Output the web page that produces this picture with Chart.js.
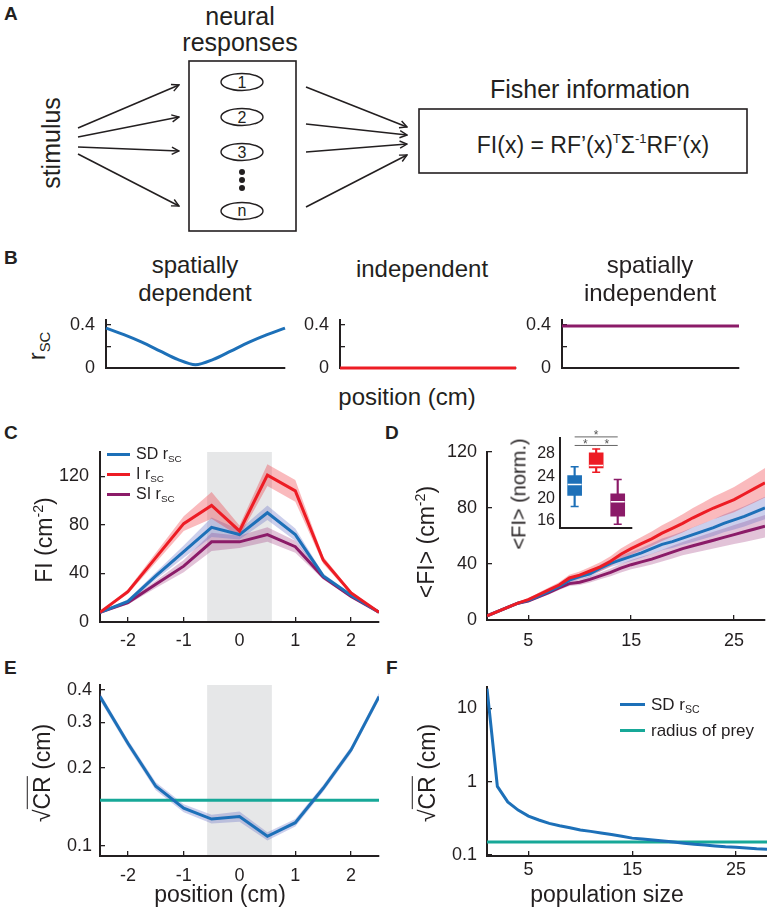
<!DOCTYPE html>
<html>
<head>
<meta charset="utf-8">
<title>Fisher information figure</title>
<script src="https://cdn.jsdelivr.net/npm/chart.js@4/dist/chart.umd.min.js"></script>
<style>
  body { margin: 0; background: #fff; }
  #fig { position: relative; width: 767px; height: 911px; overflow: hidden; background: #fff;
         font-family: "Liberation Sans", Arial, Helvetica, sans-serif; color: #231f20; }
  .t { position: absolute; white-space: nowrap; line-height: 1.15; transform: translate(-50%, -50%); text-align: center; }
  .rot { transform: translate(-50%, -50%) rotate(-90deg); }
  .L { position: absolute; font-weight: bold; font-size: 19px; line-height: 1; }
  .leg { position: absolute; white-space: nowrap; line-height: 1; transform: translateY(-50%); }
  .sw { position: absolute; height: 3px; }
  sub { font-size: 62%; vertical-align: -0.35em; line-height: 0; }
  sup { font-size: 62%; vertical-align: 0.6em; line-height: 0; }
  .ov { border-top: 1.5px solid #231f20; padding-top: 1px; }
  canvas { position: absolute; }
</style>
</head>
<body>
<div id="fig">
  <svg width="767" height="240" style="position:absolute;left:0;top:0" font-family='"Liberation Sans", Arial, sans-serif' fill="#231f20">
    <defs>
      <marker id="ah" viewBox="0 0 10 10" refX="9" refY="5" markerWidth="9" markerHeight="9" orient="auto" markerUnits="userSpaceOnUse">
        <path d="M1,1 L9,5 L1,9" fill="none" stroke="#231f20" stroke-width="1.6"/>
      </marker>
    </defs>
    <text x="240" y="25" font-size="25" text-anchor="middle">neural</text>
    <text x="240" y="51" font-size="25" text-anchor="middle">responses</text>
    <rect x="189" y="61" width="107" height="170" fill="none" stroke="#231f20" stroke-width="1.6"/>
    <g fill="none" stroke="#231f20" stroke-width="1.4">
      <ellipse cx="242" cy="82" rx="21" ry="8.5"/>
      <ellipse cx="242" cy="117" rx="21" ry="8.5"/>
      <ellipse cx="242" cy="152" rx="21" ry="8.5"/>
      <ellipse cx="242" cy="211" rx="21" ry="8.5"/>
    </g>
    <g font-size="16" text-anchor="middle">
      <text x="242" y="88">1</text>
      <text x="242" y="123">2</text>
      <text x="242" y="158">3</text>
      <text x="242" y="216">n</text>
    </g>
    <circle cx="242" cy="172" r="3"/>
    <circle cx="242" cy="180" r="3"/>
    <circle cx="242" cy="188" r="3"/>
    <text transform="translate(60,143) rotate(-90)" font-size="25" text-anchor="middle">stimulus</text>
    <g stroke="#231f20" stroke-width="1.6" marker-end="url(#ah)">
      <line x1="78" y1="128" x2="179" y2="85"/>
      <line x1="78" y1="137" x2="179" y2="117"/>
      <line x1="78" y1="147" x2="179" y2="151"/>
      <line x1="78" y1="154" x2="179" y2="206"/>
      <line x1="306" y1="87" x2="407" y2="127"/>
      <line x1="306" y1="124" x2="407" y2="135"/>
      <line x1="306" y1="152" x2="407" y2="144"/>
      <line x1="306" y1="207" x2="407" y2="155"/>
    </g>
    <text x="590" y="98" font-size="25" text-anchor="middle">Fisher information</text>
    <rect x="419" y="109" width="328" height="64" fill="none" stroke="#231f20" stroke-width="1.6"/>
    <text x="593" y="153" font-size="23" text-anchor="middle">FI(x) = RF’(x)<tspan font-size="13" dy="-10">T</tspan><tspan dy="10">Σ</tspan><tspan font-size="13" dy="-10">-1</tspan><tspan dy="10">RF’(x)</tspan></text>
  </svg>
</div>
<script>
const FONT = '"Liberation Sans", Arial, Helvetica, sans-serif';
const INK = '#231f20';
const BLUE = '#1d70b8', RED = '#ed1c24', PURPLE = '#8b1b68', TEAL = '#17a898';
const BLUE_BAND = 'rgba(95,105,195,0.32)';
const RED_BAND = 'rgba(237,28,36,0.3)';
const PURPLE_BAND = 'rgba(150,40,115,0.28)';
const SHADE = '#e6e7e8';

// B: noise correlation profiles
const posB = [0, 0.1, 0.2, 0.3, 0.4, 0.5, 0.6, 0.7, 0.8, 0.9, 1];
const rscSD = [0.37, 0.31, 0.24, 0.16, 0.08, 0.03, 0.08, 0.16, 0.24, 0.31, 0.37];
const rscI = [0, 0, 0, 0, 0, 0, 0, 0, 0, 0, 0];
const rscSI = [0.39, 0.39, 0.39, 0.39, 0.39, 0.39, 0.39, 0.39, 0.39, 0.39, 0.39];
const rscTicks = [0, 0.2, 0.4];

// C: FI vs position
const posC = [-2.5, -2, -1.5, -1, -0.5, 0, 0.5, 1, 1.5, 2, 2.5];
const fiSD = [8, 17, 38, 58, 78, 72, 90, 72, 38, 22, 8];
const fiI = [8, 25, 53, 81, 96, 75, 121, 108, 51, 24, 8];
const fiSI = [8, 16, 31, 46, 66, 66, 72, 62, 37, 21, 8];
const semSD = [0.5, 1.5, 3, 5, 8, 4, 6, 5, 2, 1, 0.5];
const semI = [0.5, 2, 4, 6, 11, 4.5, 9, 9, 3, 1.5, 0.5];
const semSI = [0.5, 1.5, 3, 5, 7.5, 5, 6, 5, 2, 1, 0.5];
const posTicks = [-2, -1, 0, 1, 2];
const fiTicks = [0, 40, 80, 120];
const preyZone = [-0.58, 0.58];

// D: mean FI vs population size
const popSize = [1, 2, 3, 4, 5, 6, 7, 8, 9, 10, 11, 12, 13, 14, 15, 16, 17, 18, 19, 20, 21, 22, 23, 24, 25, 26, 27, 28];
const meanI = [3, 6, 9, 12, 14.5, 18, 21.5, 25, 30, 32, 35, 38, 42, 47, 51, 54.5, 58, 62, 65.5, 69, 73, 76.5, 80, 83, 86, 90, 94, 98];
const meanSD = [3, 6, 9, 12, 14, 17, 20.5, 24, 28.5, 31, 33, 37, 40.5, 43, 45.5, 48, 51, 54, 56, 58.5, 61, 63.5, 66, 69, 71.5, 74, 77, 80];
const meanSI = [3, 6, 9, 12, 13.5, 16.5, 19.5, 23, 26, 27, 29, 31.5, 34, 37, 39.5, 41.5, 43.5, 46, 48.5, 51, 53, 55, 57, 59, 61, 63, 65, 67];
const errI = [0.3, 0.5, 0.7, 0.9, 1.1, 1.4, 1.7, 2, 2.3, 2.6, 2.9, 3.2, 3.6, 4, 4.4, 4.8, 5.2, 5.6, 6, 6.5, 7, 7.5, 8, 8.5, 9, 9.5, 10, 10.5];
const errSD = [0.3, 0.4, 0.5, 0.7, 0.8, 1, 1.2, 1.5, 1.7, 2, 2.2, 2.4, 2.7, 3, 3.3, 3.6, 3.9, 4.2, 4.5, 4.8, 5.2, 5.6, 6, 6.4, 6.8, 7.2, 7.6, 8];
const errSI = [0.3, 0.4, 0.5, 0.7, 0.8, 1, 1.2, 1.5, 1.7, 2, 2.2, 2.4, 2.7, 3, 3.3, 3.6, 3.9, 4.2, 4.5, 4.8, 5.2, 5.6, 6, 6.4, 6.8, 7.2, 7.6, 8];
const popTicks = [5, 15, 25];

// D inset: normalised FI box plots (SD, I, SI)
const boxPos = [1, 2, 3];
const boxLo = [18.5, 24.7, 15.3];
const boxQ1 = [20.5, 25.5, 16.75];
const boxMed = [22.5, 25.9, 19.35];
const boxQ3 = [24.1, 28.2, 20.8];
const boxHi = [25.7, 28.9, 23.4];
const boxColors = [BLUE, RED, PURPLE];
const sigFrom = [1, 1, 2];
const sigTo = [3, 2, 3];
const sigY = [31.1, 29.55, 29.55];
const normTicks = [16, 20, 24, 28];

// E: sqrt(CR) vs position
const crPos = [0.377, 0.249, 0.17, 0.14, 0.127, 0.13, 0.109, 0.123, 0.167, 0.235, 0.377];
const crPosErr = [0.012, 0.008, 0.006, 0.005, 0.005, 0.006, 0.004, 0.004, 0.005, 0.007, 0.012];
const preyRadius = 0.15;
const crTicksE = [0.1, 0.2, 0.3, 0.4];

// F: sqrt(CR) vs population size
const crPop = [18.5, 0.86, 0.53, 0.41, 0.34, 0.3, 0.27, 0.25, 0.235, 0.22, 0.21, 0.2, 0.19, 0.18, 0.17, 0.165, 0.16, 0.155, 0.15, 0.145, 0.14, 0.137, 0.133, 0.13, 0.128, 0.125, 0.122, 0.12];
const crTicksF = [0.1, 1, 10];

const fig = document.getElementById('fig');

function canvasAt(area, yW, xH, padT, padR) {
    let c = document.createElement('canvas');
    let w = area[1] - area[0] + yW + padR;
    let h = area[3] - area[2] + padT + xH;
    c.width = w;
    c.height = h;
    c.style.left = (area[0] - yW) + 'px';
    c.style.top = (area[2] - padT) + 'px';
    c.style.width = w + 'px';
    c.style.height = h + 'px';
    fig.appendChild(c);
    return c;
}

function axis(dir, size, o) {
    return {
        type: o.type || 'linear',
        min: o.min,
        max: o.max,
        offset: false,
        border: { display: true, color: INK, width: 2 },
        grid: { drawOnChartArea: false, drawTicks: true, tickLength: o.tick === undefined ? -5 : o.tick, color: INK, lineWidth: 1.3 },
        ticks: {
            display: o.labels !== false,
            color: INK,
            padding: o.pad || 0,
            autoSkip: false,
            maxRotation: 0,
            font: { family: FONT, size: o.fs || 18 },
            callback: v => (o.hide && o.hide.includes(v)) ? '' : String(v)
        },
        afterBuildTicks: s => { s.ticks = (o.ticks || []).map(v => ({ value: v })); },
        afterFit: s => {
            if (dir === 'x') s.height = size; else s.width = size;
            s.paddingLeft = s.paddingRight = s.paddingTop = s.paddingBottom = 0;
        }
    };
}

function makeChart(type, area, yW, xH, padT, padR, datasets, xo, yo, plugins, pluginOpts) {
    let c = canvasAt(area, yW, xH, padT, padR);
    return new Chart(c, {
        type: type,
        data: { datasets: datasets },
        options: {
            responsive: false,
            animation: false,
            devicePixelRatio: 1,
            layout: { padding: { top: padT, right: padR, left: 0, bottom: 0 } },
            plugins: Object.assign({ legend: { display: false }, tooltip: { enabled: false } }, pluginOpts || {}),
            scales: { x: axis('x', xH, xo), y: axis('y', yW, yo) }
        },
        plugins: plugins || []
    });
}

function pts(xs, ys) {
    return xs.map((x, i) => ({ x: x, y: ys[i] }));
}

function line(xs, ys, color, w) {
    return { data: pts(xs, ys), borderColor: color, borderWidth: w || 3, pointRadius: 0, fill: false, tension: 0, order: 1 };
}

// two datasets: upper edge filled down to lower edge
function band(xs, ys, err, color) {
    return [
        { data: xs.map((x, i) => ({ x: x, y: ys[i] + err[i] })), borderWidth: 0, pointRadius: 0, fill: '+1', backgroundColor: color, order: 2 },
        { data: xs.map((x, i) => ({ x: x, y: ys[i] - err[i] })), borderWidth: 0, pointRadius: 0, fill: false, order: 2 }
    ];
}

const shadePlugin = {
    id: 'shade',
    beforeDatasetsDraw(chart, args, opts) {
        let { ctx, chartArea: a, scales: { x } } = chart;
        let x0 = x.getPixelForValue(opts.from), x1 = x.getPixelForValue(opts.to);
        ctx.save();
        ctx.fillStyle = SHADE;
        ctx.fillRect(x0, a.top, x1 - x0, a.bottom - a.top - 1);
        ctx.restore();
    }
};

const sigPlugin = {
    id: 'sig',
    afterDatasetsDraw(chart) {
        let { ctx, scales: { x, y } } = chart;
        ctx.save();
        ctx.strokeStyle = '#666';
        ctx.fillStyle = '#555';
        ctx.lineWidth = 1;
        ctx.font = '12px ' + FONT;
        ctx.textAlign = 'center';
        ctx.textBaseline = 'middle';
        sigFrom.forEach((a, i) => {
            let x0 = x.getPixelForValue(a), x1 = x.getPixelForValue(sigTo[i]), yy = y.getPixelForValue(sigY[i]);
            ctx.beginPath();
            ctx.moveTo(x0, yy);
            ctx.lineTo(x1, yy);
            ctx.stroke();
            ctx.fillText('*', (x0 + x1) / 2, yy - 1);
        });
        ctx.restore();
    }
};

// TEXT
function label(html, x, y, size, rot) {
    let d = document.createElement('div');
    d.className = 't' + (rot ? ' rot' : '');
    d.style.left = x + 'px';
    d.style.top = y + 'px';
    d.style.fontSize = size + 'px';
    d.innerHTML = html;
    fig.appendChild(d);
}

function legendItem(html, x, y, len, color, size) {
    let s = document.createElement('div');
    s.className = 'sw';
    s.style.left = x + 'px';
    s.style.top = (y - 1.5) + 'px';
    s.style.width = len + 'px';
    s.style.background = color;
    fig.appendChild(s);
    let d = document.createElement('div');
    d.className = 'leg';
    d.style.left = (x + len + 6) + 'px';
    d.style.top = y + 'px';
    d.style.fontSize = size + 'px';
    d.innerHTML = html;
    fig.appendChild(d);
}

function panelLetter(ch, x, y) {
    let d = document.createElement('div');
    d.className = 'L';
    d.style.left = x + 'px';
    d.style.top = y + 'px';
    d.textContent = ch;
    fig.appendChild(d);
}

// B
const areasB = [[106, 285, 320, 368], [340, 516, 320, 368], [562, 739, 320, 368]];
const seriesB = [rscSD, rscI, rscSI];
const colorsB = [BLUE, RED, PURPLE];
seriesB.forEach((ys, k) => {
    let ds = line(posB, ys, colorsB[k], 3);
    ds.clip = false;
    ds.tension = 0.3;
    makeChart('line', areasB[k], 50, 8, 10, 4, [ds],
        { min: 0, max: 1, ticks: [], labels: false, tick: 0 },
        { min: 0, max: 0.446, ticks: rscTicks, hide: [0.2], pad: 16 });
});

// C
makeChart('line', [100, 379, 452, 622], 62, 40, 12, 6,
    [line(posC, fiI, RED), line(posC, fiSD, BLUE), line(posC, fiSI, PURPLE)]
        .concat(band(posC, fiI, semI, RED_BAND))
        .concat(band(posC, fiSD, semSD, BLUE_BAND))
        .concat(band(posC, fiSI, semSI, PURPLE_BAND)),
    { min: -2.5, max: 2.5, ticks: posTicks, pad: 13 },
    { min: 0, max: 140, ticks: fiTicks, pad: 16 },
    [shadePlugin], { shade: { from: preyZone[0], to: preyZone[1] } });

// D
makeChart('line', [487, 765, 452, 620], 62, 40, 12, 2,
    [line(popSize, meanI, RED), line(popSize, meanSD, BLUE), line(popSize, meanSI, PURPLE)]
        .concat(band(popSize, meanI, errI, RED_BAND))
        .concat(band(popSize, meanSD, errSD, BLUE_BAND))
        .concat(band(popSize, meanSI, errSI, PURPLE_BAND)),
    { min: 1, max: 28, ticks: popTicks, pad: 15 },
    { min: 0, max: 120, ticks: fiTicks, pad: 15 });

// D inset
makeChart('bar', [560, 638, 438, 532], 40, 4, 16, 2,
    [
        { type: 'line', showLine: false, data: pts(boxPos, boxMed), pointStyle: 'line', pointRadius: 7, borderColor: '#fff', borderWidth: 1.5, order: 0 },
        { type: 'line', showLine: false, data: pts(boxPos, boxLo).concat(pts(boxPos, boxHi)), pointStyle: 'line', pointRadius: 4,
          borderColor: boxColors.concat(boxColors), borderWidth: 1.5, order: 1 },
        { data: boxPos.map((x, i) => ({ x: x, y: [boxQ1[i], boxQ3[i]] })), backgroundColor: boxColors, barThickness: 14, grouped: false, order: 2 },
        { data: boxPos.map((x, i) => ({ x: x, y: [boxLo[i], boxHi[i]] })), backgroundColor: boxColors, barThickness: 1.5, grouped: false, order: 3 }
    ],
    { min: 0.32, max: 3.64, ticks: [], labels: false, tick: 0 },
    { min: 14.7, max: 30.9, ticks: normTicks, pad: 5, fs: 16, tick: 0 },
    [sigPlugin]);

// E
makeChart('line', [100, 379, 685, 856], 62, 40, 12, 6,
    [line(posC, crPos, BLUE), line([posC[0], posC[posC.length - 1]], [preyRadius, preyRadius], TEAL)]
        .concat(band(posC, crPos, crPosErr, BLUE_BAND)),
    { min: -2.5, max: 2.5, ticks: posTicks, pad: 14 },
    { type: 'logarithmic', min: 0.0915, max: 0.418, ticks: crTicksE, pad: 13 },
    [shadePlugin], { shade: { from: preyZone[0], to: preyZone[1] } });

// F
makeChart('line', [487, 767, 687, 856], 62, 40, 12, 0,
    [line(popSize, crPop, BLUE), line([popSize[0], popSize[popSize.length - 1]], [preyRadius, preyRadius], TEAL)],
    { min: 1, max: 28, ticks: popTicks, pad: 8 },
    { type: 'logarithmic', min: 0.097, max: 19.5, ticks: crTicksF, pad: 15 });

// labels
panelLetter('A', 4, 4);
panelLetter('B', 4, 248);
panelLetter('C', 4, 423);
panelLetter('D', 385, 423);
panelLetter('E', 4, 658);
panelLetter('F', 386, 658);

label('spatially<br>dependent', 195, 279, 24);
label('independent', 422, 269, 24);
label('spatially<br>independent', 650, 279, 24);
label('r<sub>SC</sub>', 37, 346, 24, true);
label('position (cm)', 407, 397, 24);

label('FI (cm<sup>-2</sup>)', 44, 540, 23, true);
label('&lt;FI&gt; (cm<sup>-2</sup>)', 426, 542, 23, true);
label('&lt;FI&gt; (norm.)', 519, 494, 20, true);
label('√<span class="ov">CR</span> (cm)', 42, 773, 23, true);
label('√<span class="ov">CR</span> (cm)', 427, 773, 23, true);
label('position (cm)', 220, 894, 23);
label('population size', 607, 894, 23);

legendItem('SD r<sub>SC</sub>', 107, 454, 23, BLUE, 16);
legendItem('I r<sub>SC</sub>', 107, 474, 23, RED, 16);
legendItem('SI r<sub>SC</sub>', 107, 494, 23, PURPLE, 16);
legendItem('SD r<sub>SC</sub>', 620, 704, 25, BLUE, 17);
legendItem('radius of prey', 620, 730, 25, TEAL, 17);
</script>
</body>
</html>
